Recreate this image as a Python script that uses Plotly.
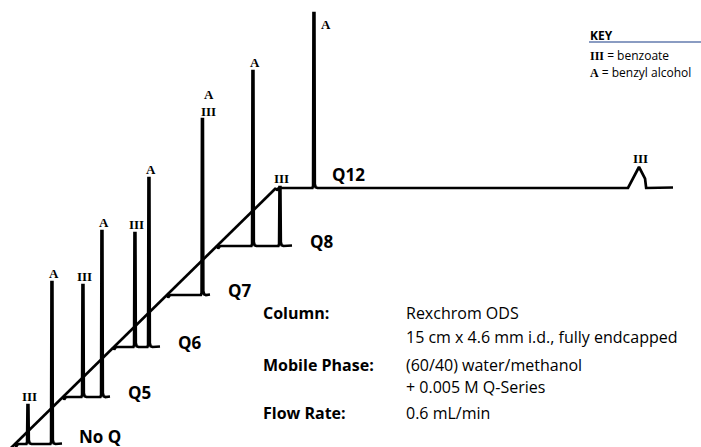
import plotly.graph_objects as go

# ---------------- data ----------------
run_labels = ["No Q", "Q5", "Q6", "Q7", "Q8", "Q12"]
# waterfall offset of each run: its injection point on the diagonal
inject_x = [15, 63, 113, 167, 217, 276]
inject_y = [3, 50, 100, 152, 201, 259]
run_length = [47, 47, 47, 43, 75, 397]

# benzoate (III) and benzyl alcohol (A): retention relative to injection, peak height
benzoate_rt = [13, 20, 22, 35.5, 63, 363]
benzoate_h = [39, 112, 114, 176, 59, 21]
benzoate_w = [1, 1, 1, 1, 1, 11]
alcohol_rt = [37, 39, 36, 35.5, 36, 38]
alcohol_h = [162, 166, 169, 176, 175, 175]
alcohol_w = [1, 1, 1, 1, 1, 1]

info_keys = ["Column:", "", "Mobile Phase:", "", "Flow Rate:"]
info_vals = ["Rexchrom ODS", "15 cm x 4.6 mm i.d., fully endcapped",
             "(60/40) water/methanol", "+ 0.005 M Q-Series", "0.6 mL/min"]
key_items = [("III", "benzoate"), ("A", "benzyl alcohol")]

# ---------------- styling ----------------
W, H = 701, 447
INK = "black"
LW = 2.7
SANS = "'Open Sans', Lato, sans-serif"
SERIF = "'Liberation Serif', 'DejaVu Serif', serif"


def peak_shape(t, h, w):
    if w <= 2:
        return [(t - 1.6, 0), (t - 0.9, 2), (t - 0.5, h), (t + 0.4, h),
                (t + 0.8, 4), (t + 1.6, 0.8), (t + 3.5, 0)]
    return [(t - w, 0), (t, h), (t + 0.55 * w, 0.45 * h), (t + 0.65 * w, 0)]


def run_points(i):
    peaks = {}
    for t, h, w in ((benzoate_rt[i], benzoate_h[i], benzoate_w[i]),
                    (alcohol_rt[i], alcohol_h[i], alcohol_w[i])):
        if t in peaks:
            peaks[t] = (max(h, peaks[t][0]), w)
        else:
            peaks[t] = (h, w)
    pts = [(0, 0), (1.2, -2.5), (2.5, -0.5), (4, 0)]
    for t in sorted(peaks):
        h, w = peaks[t]
        pts += peak_shape(t, h, w)
    pts.append((run_length[i], 0.5))
    xs = [inject_x[i] + p[0] for p in pts]
    ys = [inject_y[i] + p[1] for p in pts]
    return xs, ys


fig = go.Figure()

# diagonal through the injection points, continued to the bottom edge
slope = (inject_y[-1] - inject_y[0]) / (inject_x[-1] - inject_x[0])
x_bottom = inject_x[0] - (inject_y[0] + 3) / slope
fig.add_trace(go.Scatter(x=[x_bottom] + [inject_x[0], inject_x[-1]],
                         y=[-3, inject_y[0], inject_y[-1]],
                         mode="lines", line=dict(color=INK, width=LW),
                         hoverinfo="skip"))

for i in range(len(run_labels)):
    xs, ys = run_points(i)
    fig.add_trace(go.Scatter(x=xs, y=ys, mode="lines",
                             line=dict(color=INK, width=LW),
                             name=run_labels[i], hoverinfo="skip"))

ann = []
# peak labels
for i in range(len(run_labels)):
    x0, y0 = inject_x[i], inject_y[i]
    if benzoate_rt[i] == alcohol_rt[i]:
        ann.append(dict(x=x0 + alcohol_rt[i] + 6, y=y0 + max(alcohol_h[i], benzoate_h[i]) + 16,
                        text="<b>A</b><br><b>III</b>", xanchor="center", yanchor="middle"))
        continue
    for txt, t, h in (("III", benzoate_rt[i], benzoate_h[i]), ("A", alcohol_rt[i], alcohol_h[i])):
        if i == len(run_labels) - 1 and txt == "A":
            ann.append(dict(x=x0 + t + 12, y=y0 + h - 11, text="<b>A</b>",
                            xanchor="center", yanchor="middle"))
        else:
            ann.append(dict(x=x0 + t + 1.5, y=y0 + h + 8.5, text="<b>%s</b>" % txt,
                            xanchor="center", yanchor="middle"))
for a in ann:
    a.update(showarrow=False, xref="x", yref="y",
             font=dict(family=SERIF, size=13, color=INK))

# run labels
for i, lab in enumerate(run_labels):
    if i == len(run_labels) - 1:
        x, y = inject_x[i] + 54, inject_y[i] + 14
    elif i == 0:
        x, y = inject_x[i] + run_length[i] + 15, inject_y[i] + 8
    else:
        x, y = inject_x[i] + run_length[i] + 16, inject_y[i] + 5
    ann.append(dict(x=x, y=y, text="<b>%s</b>" % lab, showarrow=False,
                    xref="x", yref="y", xanchor="left", yanchor="middle",
                    font=dict(family=SANS, size=17, color=INK)))

# method info block
info_y = [134, 110, 82, 60, 34]
for k, v, y in zip(info_keys, info_vals, info_y):
    if k:
        ann.append(dict(x=261, y=y, text="<b>%s</b>" % k, showarrow=False,
                        xref="x", yref="y", xanchor="left", yanchor="middle",
                        font=dict(family=SANS, size=16, color=INK)))
    ann.append(dict(x=404, y=y, text=v, showarrow=False,
                    xref="x", yref="y", xanchor="left", yanchor="middle",
                    font=dict(family=SANS, size=16, color=INK)))

# key
ann.append(dict(x=588, y=412, text="<b>KEY</b>", showarrow=False, xref="x", yref="y",
                xanchor="left", yanchor="middle", font=dict(family=SANS, size=12, color=INK)))
for j, (sym, desc) in enumerate(key_items):
    ann.append(dict(x=588, y=392 - 17 * j,
                    text="<span style=\"font-family:'Liberation Serif'\"><b>%s</b></span> = %s" % (sym, desc),
                    showarrow=False, xref="x", yref="y", xanchor="left", yanchor="middle",
                    font=dict(family=SANS, size=12, color=INK)))

fig.update_layout(
    width=W, height=H, margin=dict(l=0, r=0, t=0, b=0),
    paper_bgcolor="white", plot_bgcolor="white", showlegend=False,
    xaxis=dict(range=[0, W], visible=False, fixedrange=True),
    yaxis=dict(range=[0, H], visible=False, fixedrange=True),
    annotations=ann,
    shapes=[dict(type="line", xref="x", yref="y", x0=589, x1=W, y0=405, y1=405,
                 line=dict(color="#8a9cc2", width=2))],
)

fig.write_html("out.html", config={"displayModeBar": False},
               post_script="document.body.style.margin='0';document.body.style.overflow='hidden';")
